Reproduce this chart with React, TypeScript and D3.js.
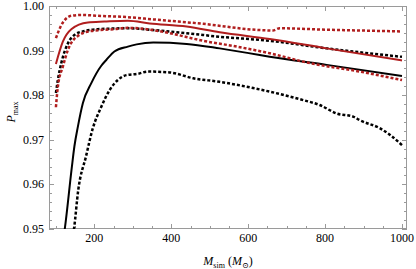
import * as d3 from 'd3';
import React, { useEffect, useRef } from 'react';

interface Pt {
  m: number;
  p: number;
}

const toPts = (arr: number[][]): Pt[] => arr.map(([m, p]) => ({ m, p }));

// simulated mass (M_sun) vs P_max
const blackSolid = toPts([
  [121, 0.9488], [123, 0.9500], [141, 0.9636], [148, 0.9685], [157, 0.9729], [170, 0.9782],
  [192, 0.9827], [218, 0.9866], [231, 0.9879], [252, 0.9898], [287, 0.9909], [310, 0.9914],
  [353, 0.9918], [440, 0.9915], [526, 0.9905], [630, 0.9890], [656, 0.9886], [804, 0.9868],
  [1000, 0.9843],
]);

const blackDashLow = toPts([
  [145, 0.9488], [147, 0.9500], [158, 0.9587], [178, 0.9662], [196, 0.9726], [218, 0.9774],
  [240, 0.9812], [261, 0.9834], [283, 0.9845], [313, 0.9848], [339, 0.9853], [396, 0.9851],
  [457, 0.9838], [526, 0.9830], [613, 0.9816], [656, 0.9808], [743, 0.9789], [786, 0.9778],
  [830, 0.9759], [873, 0.9752], [890, 0.9744], [942, 0.9726], [969, 0.9711], [1000, 0.9688],
]);

const blackDashUp = toPts([
  [100, 0.9805], [105, 0.9834], [114, 0.9872], [131, 0.9916], [148, 0.9935], [174, 0.9944],
  [209, 0.9948], [287, 0.9950], [353, 0.9946], [440, 0.9939], [526, 0.9931], [656, 0.9922],
  [804, 0.9905], [1000, 0.9886],
]);

const redSolid = toPts([
  [100, 0.9870], [118, 0.9920], [140, 0.9948], [183, 0.9963], [226, 0.9965], [287, 0.9967],
  [344, 0.9961], [440, 0.9954], [526, 0.9941], [656, 0.9926], [804, 0.9905], [1000, 0.9878],
]);

const redDashUp = toPts([
  [100, 0.9928], [114, 0.9957], [140, 0.9978], [166, 0.9980], [209, 0.9978], [287, 0.9975],
  [353, 0.9970], [483, 0.9960], [630, 0.9946], [664, 0.9945], [682, 0.9950], [800, 0.9947],
  [1000, 0.9943],
]);

const redDashLow = toPts([
  [100, 0.9773], [105, 0.9819], [118, 0.9864], [131, 0.9901], [157, 0.9933], [192, 0.9944],
  [252, 0.9948], [287, 0.9951], [353, 0.9946], [396, 0.9939], [483, 0.9922], [570, 0.9909],
  [656, 0.9894], [760, 0.9872], [890, 0.9853], [977, 0.9838], [1000, 0.9834],
]);

const xMajor = [200, 400, 600, 800, 1000];
const yMajor = [0.95, 0.96, 0.97, 0.98, 0.99, 1.0];

const RED = '#b01e1e';

const App: React.FC = () => {
  const ref = useRef<SVGSVGElement>(null);

  useEffect(() => {
    if (!ref.current) return;
    const width = 416;
    const height = 269;
    const left = 49, right = 407, top = 6, bottom = 229;

    const svg = d3.select(ref.current);
    svg.selectAll('*').remove();
    svg.attr('width', width).attr('height', height);

    const x = d3.scaleLinear().domain([82, 1013]).range([left, right]);
    const y = d3.scaleLinear().domain([0.95, 1.0]).range([bottom, top]);

    svg.append('defs').append('clipPath').attr('id', 'plotclip')
      .append('rect')
      .attr('x', left).attr('y', top)
      .attr('width', right - left).attr('height', bottom - top);

    const frameColor = '#9a9a9a';
    const ticks = svg.append('g').attr('stroke', frameColor).attr('stroke-width', 1);

    const xMinor = d3.range(100, 1001, 50);
    xMinor.forEach(v => {
      const len = xMajor.includes(v) ? 5 : 3;
      const px = Math.round(x(v)) + 0.5;
      ticks.append('line').attr('x1', px).attr('x2', px).attr('y1', bottom).attr('y2', bottom - len);
      ticks.append('line').attr('x1', px).attr('x2', px).attr('y1', top).attr('y2', top + len);
    });

    const yMinor = d3.range(0, 26).map(i => 0.95 + i * 0.002);
    yMinor.forEach((v, i) => {
      const len = i % 5 === 0 ? 5 : 3;
      const py = Math.round(y(v)) + 0.5;
      ticks.append('line').attr('y1', py).attr('y2', py).attr('x1', left).attr('x2', left + len);
      ticks.append('line').attr('y1', py).attr('y2', py).attr('x1', right).attr('x2', right - len);
    });

    svg.append('rect')
      .attr('x', left + 0.5).attr('y', top + 0.5)
      .attr('width', right - left - 1).attr('height', bottom - top - 1)
      .attr('fill', 'none').attr('stroke', frameColor);

    const font = '"Liberation Serif", "DejaVu Serif", serif';

    svg.append('g').selectAll('text')
      .data(xMajor)
      .enter()
      .append('text')
      .attr('x', d => x(d))
      .attr('y', 242)
      .attr('text-anchor', 'middle')
      .style('font-family', font)
      .style('font-size', '12px')
      .text(d => String(d));

    svg.append('g').selectAll('text')
      .data(yMajor)
      .enter()
      .append('text')
      .attr('x', 44)
      .attr('y', d => y(d) + 4)
      .attr('text-anchor', 'end')
      .style('font-family', font)
      .style('font-size', '12px')
      .text(d => d3.format('.2f')(d));

    const line = d3.line<Pt>()
      .x(d => x(d.m))
      .y(d => y(d.p))
      .curve(d3.curveMonotoneX);

    const series = [
      { data: blackSolid, color: '#000', dash: null, w: 2 },
      { data: blackDashLow, color: '#000', dash: '3,2', w: 2.5 },
      { data: blackDashUp, color: '#000', dash: '3,2', w: 2.5 },
      { data: redDashLow, color: RED, dash: '3,2', w: 2.5 },
      { data: redDashUp, color: RED, dash: '3,2', w: 2.5 },
      { data: redSolid, color: RED, dash: null, w: 2 },
    ];

    const plot = svg.append('g').attr('clip-path', 'url(#plotclip)');
    series.forEach(s => {
      plot.append('path')
        .attr('d', line(s.data) || '')
        .attr('fill', 'none')
        .attr('stroke', s.color)
        .attr('stroke-width', s.w)
        .attr('stroke-dasharray', s.dash)
        .attr('stroke-linejoin', 'round');
    });

    // x label
    const xl = svg.append('text')
      .attr('x', 228)
      .attr('y', 265)
      .attr('text-anchor', 'middle')
      .style('font-family', font)
      .style('font-size', '12px');
    xl.append('tspan').style('font-style', 'italic').text('M');
    xl.append('tspan').attr('dy', 3).style('font-size', '8px').text('sim');
    xl.append('tspan').attr('dy', -3).text(' (');
    xl.append('tspan').style('font-style', 'italic').text('M');
    xl.append('tspan').attr('dy', 3).style('font-size', '8px').text('⊙');
    xl.append('tspan').attr('dy', -3).text(')');

    // y label
    const yl = svg.append('text')
      .attr('transform', `translate(15,112) rotate(-90)`)
      .attr('text-anchor', 'middle')
      .style('font-family', font)
      .style('font-size', '12px');
    yl.append('tspan').style('font-style', 'italic').text('P');
    yl.append('tspan').attr('dy', 3).style('font-size', '8px').text('max');
  }, []);

  return <svg ref={ref} style={{ position: 'absolute', left: 0, top: 0 }} />;
};

export default App;
